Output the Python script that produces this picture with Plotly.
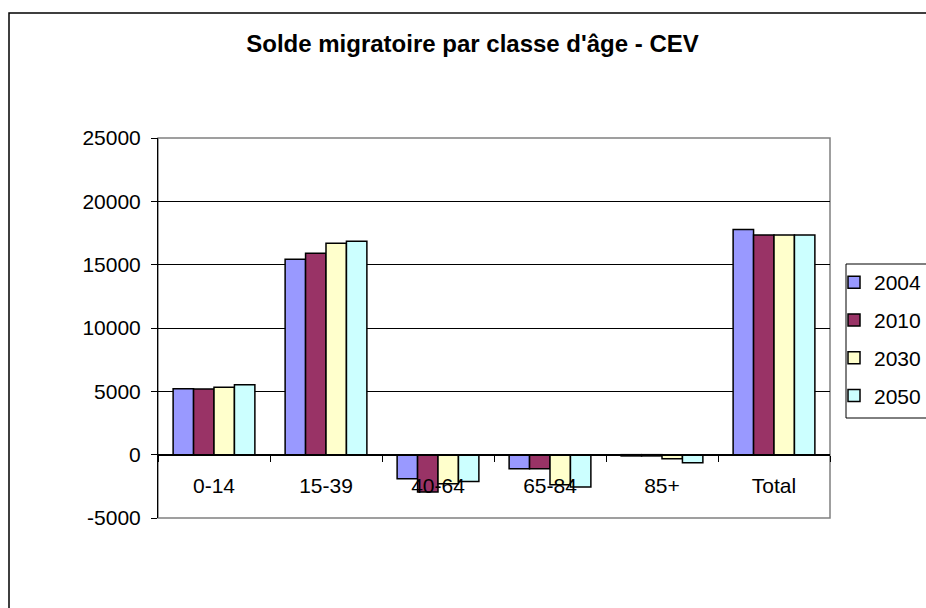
import plotly.graph_objects as go

categories = ["0-14", "15-39", "40-64", "65-84", "85+", "Total"]
years = ["2004", "2010", "2030", "2050"]
v2004 = [5200, 15430, -1900, -1110, -100, 17780]
v2010 = [5180, 15900, -2950, -1110, -100, 17350]
v2030 = [5330, 16690, -2300, -2370, -320, 17350]
v2050 = [5510, 16850, -2110, -2550, -630, 17350]
colors = ["#9999FF", "#993366", "#FFFFCC", "#CCFFFF"]

y_ticks = [-5000, 0, 5000, 10000, 15000, 20000, 25000]
y_labels = ["-5000", "0", "5000", "10000", "15000", "20000", "25000"]

FONT = "Liberation Sans, Arial, sans-serif"
W, H = 926, 608
L, R, T, B = 158, 830, 138, 518

def px_x(p):
    return (p - L) / (R - L)

def px_y(p):
    return (B - p) / (B - T)

fig = go.Figure()
for yr, vals, col in zip(years, [v2004, v2010, v2030, v2050], colors):
    fig.add_trace(go.Bar(
        x=categories, y=vals, name=yr, legendgroup=yr,
        marker=dict(color=col, line=dict(color="black", width=1.5)),
    ))

ymin, ymax = y_ticks[0], y_ticks[-1]

fig.update_layout(
    width=W, height=H,
    margin=dict(l=L, r=W - R, t=T, b=H - B, autoexpand=False),
    paper_bgcolor="white", plot_bgcolor="white",
    barmode="group", bargap=0.27, bargroupgap=0,
    font=dict(family=FONT, size=21, color="black"),
    title=dict(text="<b>Solde migratoire par classe d'âge - CEV</b>",
               font=dict(family=FONT, size=24, color="black"),
               x=472.5 / W, xanchor="center", xref="container",
               y=1 - 44 / H, yanchor="middle", yref="container"),
    xaxis=dict(anchor="free", position=(0 - ymin) / (ymax - ymin),
               showline=True, linecolor="black", linewidth=1,
               ticks="outside", tickson="boundaries", ticklen=6,
               tickcolor="black", showgrid=False, automargin=False,
               ticklabelstandoff=12,
               tickfont=dict(family=FONT, size=21)),
    yaxis=dict(range=[ymin, ymax], tickvals=y_ticks, ticktext=y_labels,
               showline=True, linecolor="black", linewidth=1,
               ticks="outside", ticklen=6, tickcolor="black",
               showgrid=True, gridcolor="black", gridwidth=1,
               zeroline=False, ticklabelstandoff=6, automargin=False,
               tickfont=dict(family=FONT, size=21)),
    legend=dict(x=px_x(834), y=px_y(262), xanchor="left", yanchor="top",
                borderwidth=0, bgcolor="rgba(0,0,0,0)",
                traceorder="grouped", tracegroupgap=7.5,
                font=dict(family=FONT, size=21)),
    showlegend=True,
)

# plot area frame (gray)
fig.add_shape(type="rect", xref="paper", yref="paper", x0=0, x1=1, y0=0, y1=1,
              line=dict(color="#808080", width=1.5), layer="below")
# outer chart border
fig.add_shape(type="rect", xref="paper", yref="paper",
              x0=px_x(9), x1=px_x(950), y0=px_y(13), y1=px_y(640),
              line=dict(color="black", width=1.5), layer="below")
# legend box
fig.add_shape(type="rect", xref="paper", yref="paper",
              x0=px_x(846), x1=px_x(950), y0=px_y(264), y1=px_y(418),
              line=dict(color="black", width=1), fillcolor="white", layer="below")

fig.write_html(
    "out.html",
    config={"displayModeBar": False},
    post_script="document.body.style.margin='0';document.body.style.overflow='hidden';",
)
